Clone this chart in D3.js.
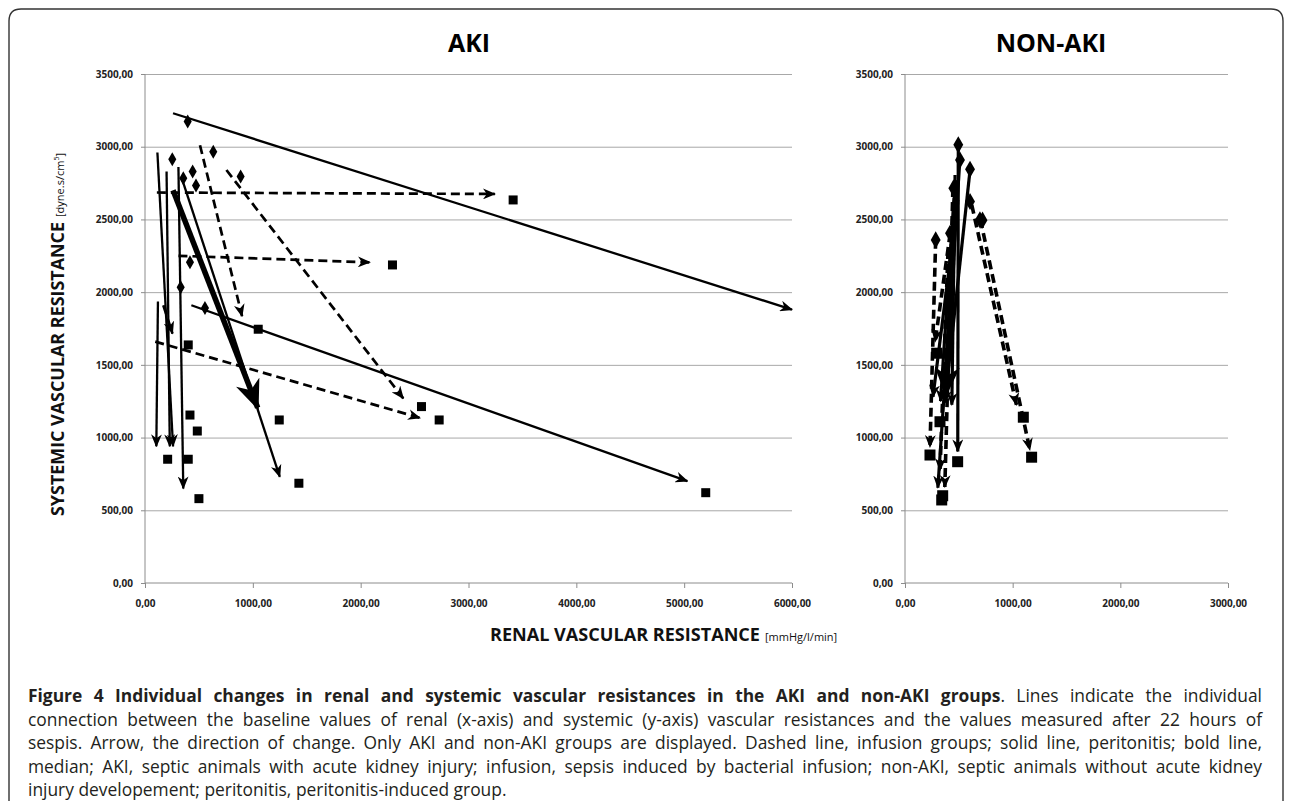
<!DOCTYPE html>
<html>
<head>
<meta charset="utf-8">
<script src="https://cdn.jsdelivr.net/npm/d3@7"></script>
<style>
  body { margin: 0; background: #fff; }
  svg { display: block; }
  .tick text { font-family: "Open Sans", sans-serif; font-weight: 700; font-size: 10px; fill: #222; }
</style>
</head>
<body>
<svg id="chart" width="1292" height="801"></svg>
<script>
// values: [rvr0, svr0, rvr22h, svr22h]
const akiSolid = [
  [260, 3230, 6000, 1880],
  [430, 1910, 5030, 700],
  [340, 2785, 1250, 730],
  [115, 2960, 260, 940],
  [120, 1935, 105, 940],
  [310, 2860, 355, 650],
  [200, 2830, 230, 940]
]
const akiDashed = [
  [110, 2685, 3245, 2675],
  [510, 3010, 900, 1835],
  [755, 2840, 2395, 1270],
  [310, 2250, 2085, 2205],
  [95, 1660, 2550, 1135],
  [170, 1910, 255, 1715]
]
const akiMedian = [[260, 2700, 1045, 1205]]
const akiDiamonds = [[396, 3173], [633, 2966], [887, 2795], [253, 2914], [442, 2829],
  [473, 2733], [355, 2783], [417, 2206], [331, 2034], [556, 1891]]
const akiSquares = [[3414, 2634], [2295, 2187], [2564, 1213], [2728, 1121], [5200, 621],
  [1050, 1745], [1245, 1121], [1427, 686], [210, 851], [401, 851], [417, 1155],
  [485, 1045], [500, 580], [401, 1637]]

const nonSolid = [
  [495, 3045, 490, 905],
  [510, 2910, 305, 655],
  [605, 2845, 370, 1240],
  [490, 2635, 260, 1280],
  [465, 2805, 435, 1225],
  [455, 2650, 330, 1250]
]
const nonDashed = [
  [285, 2360, 232, 935],
  [700, 2500, 1160, 915],
  [620, 2600, 1035, 1225],
  [445, 2715, 370, 660],
  [420, 2405, 280, 1660],
  [400, 2290, 325, 775]
]
const nonMedian = [[480, 2770, 380, 1295]]
const nonDiamonds = [[495, 3013], [511, 2909], [604, 2845], [449, 2715], [604, 2623],
  [696, 2497], [285, 2359], [418, 2405], [720, 2495]]
const nonSquares = [[232, 880], [489, 834], [341, 571], [294, 1580], [325, 1109],
  [1099, 1140], [1176, 865], [350, 600]]

const yTicks = [0, 500, 1000, 1500, 2000, 2500, 3000, 3500]
const akiXTicks = [0, 1000, 2000, 3000, 4000, 5000, 6000]
const nonXTicks = [0, 1000, 2000, 3000]

const captionLines = [
  ["Figure 4 Individual changes in renal and systemic vascular resistances in the AKI and non-AKI groups", ". Lines indicate the individual"],
  ["", "connection between the baseline values of renal (x-axis) and systemic (y-axis) vascular resistances and the values measured after 22 hours of"],
  ["", "sespis. Arrow, the direction of change. Only AKI and non-AKI groups are displayed. Dashed line, infusion groups; solid line, peritonitis; bold line,"],
  ["", "median; AKI, septic animals with acute kidney injury; infusion, sepsis induced by bacterial infusion; non-AKI, septic animals without acute kidney"],
  ["", "injury developement; peritonitis, peritonitis-induced group."]
]

let svg = d3.select("#chart")
let fmt = d => d3.format(".2f")(d).replace(".", ",")

// frame
svg.append("path")
  .attr("d", "M9,805 L9,21 Q9,9 21,9 L1271,9 Q1283,9 1283,21 L1283,805")
  .attr("fill", "none")
  .attr("stroke", "#333")
  .attr("stroke-width", 1.4)

let defs = svg.append("defs")
function addMarker(id, w, h) {
  defs.append("marker")
    .attr("id", id)
    .attr("viewBox", "0 0 12 10")
    .attr("refX", 11).attr("refY", 5)
    .attr("markerWidth", w).attr("markerHeight", h)
    .attr("markerUnits", "userSpaceOnUse")
    .attr("orient", "auto")
    .append("path")
    .attr("d", "M0,0 L12,5 L0,10 L3.5,5 Z")
    .attr("fill", "#000")
}
addMarker("arr", 13, 11)
addMarker("arrBig", 30, 27)

let y = d3.scaleLinear().domain([0, 3500]).range([583, 74])

function panel(x, ticks, title, titleX, lw, mk, solid, dashed, median, diamonds, squares) {
  let g = svg.append("g")
  let [x0, x1] = x.range()

  // gridlines
  g.append("g")
    .attr("transform", `translate(${x0},0)`)
    .call(d3.axisLeft(y).tickValues(yTicks.slice(1)).tickSize(-(x1 - x0)).tickFormat(""))
    .call(a => a.select(".domain").remove())
    .selectAll("line").attr("stroke", "#a8a8a8")

  let ya = g.append("g")
    .attr("transform", `translate(${x0},0)`)
    .call(d3.axisLeft(y).tickValues(yTicks).tickSize(4).tickPadding(8).tickFormat(fmt))
  ya.select(".domain").attr("stroke", "#8c8c8c").attr("d", `M0,${y(0)}V${y(3500)}`)
  ya.selectAll(".tick line").attr("stroke", "#8c8c8c")

  let xa = g.append("g")
    .attr("transform", `translate(0,${y(0)})`)
    .call(d3.axisBottom(x).tickValues(ticks).tickSize(5).tickPadding(12).tickFormat(fmt))
  xa.select(".domain").attr("stroke", "#8c8c8c").attr("d", `M${x0},0H${x1}`)
  xa.selectAll(".tick line").attr("stroke", "#8c8c8c")

  g.append("text")
    .attr("x", titleX).attr("y", 52)
    .attr("text-anchor", "middle")
    .attr("font-family", "Open Sans").attr("font-weight", 700).attr("font-size", 25)
    .text(title)

  function lines(data, width, dash, marker) {
    g.selectAll(null).data(data).enter().append("line")
      .attr("x1", d => x(d[0])).attr("y1", d => y(d[1]))
      .attr("x2", d => x(d[2])).attr("y2", d => y(d[3]))
      .attr("stroke", "#000")
      .attr("stroke-width", width)
      .attr("stroke-dasharray", dash)
      .attr("marker-end", `url(#${marker})`)
  }
  lines(dashed, lw + 0.4, "9,5", "arr")
  lines(solid, lw, null, "arr")
  lines(median, 5.5, null, "arrBig")

  g.selectAll(null).data(diamonds).enter().append("path")
    .attr("transform", d => `translate(${x(d[0])},${y(d[1])})`)
    .attr("d", d3.symbol(d3.symbolDiamond, mk * mk * 0.7))
    .attr("fill", "#000")
  g.selectAll(null).data(squares).enter().append("rect")
    .attr("x", d => x(d[0]) - mk / 2).attr("y", d => y(d[1]) - mk / 2)
    .attr("width", mk).attr("height", mk)
    .attr("fill", "#000")
}

panel(d3.scaleLinear().domain([0, 6000]).range([145, 792]), akiXTicks, "AKI", 469, 2.3, 9,
  akiSolid, akiDashed, akiMedian, akiDiamonds, akiSquares)
panel(d3.scaleLinear().domain([0, 3000]).range([905, 1228]), nonXTicks, "NON-AKI", 1051, 3.2, 11,
  nonSolid, nonDashed, nonMedian, nonDiamonds, nonSquares)

// axis titles
svg.append("text")
  .attr("x", 490).attr("y", 641)
  .attr("font-family", "Open Sans").attr("font-weight", 700).attr("font-size", 18)
  .attr("textLength", 270).attr("lengthAdjust", "spacingAndGlyphs")
  .attr("fill", "#111")
  .text("RENAL VASCULAR RESISTANCE")
svg.append("text")
  .attr("x", 765).attr("y", 641)
  .attr("font-family", "Open Sans").attr("font-size", 11)
  .attr("fill", "#111")
  .text("[mmHg/l/min]")

let yt = svg.append("g").attr("transform", "translate(64,516) rotate(-90)")
yt.append("text")
  .attr("x", 0).attr("y", 0)
  .attr("font-family", "Open Sans").attr("font-weight", 700).attr("font-size", 18)
  .attr("textLength", 294).attr("lengthAdjust", "spacingAndGlyphs")
  .attr("fill", "#111")
  .text("SYSTEMIC VASCULAR RESISTANCE")
let ys = yt.append("text")
  .attr("x", 299).attr("y", 0)
  .attr("font-family", "Open Sans").attr("font-size", 11)
  .attr("fill", "#111")
ys.append("tspan").text("[dyne.s/cm")
ys.append("tspan").attr("dy", -5).attr("font-size", 7).text("5")
ys.append("tspan").attr("dy", 5).text("]")

// caption, justified
let capLeft = 28, capRight = 1262
captionLines.forEach((ln, i) => {
  let t = svg.append("text")
    .attr("x", capLeft).attr("y", 702 + i * 23.6)
    .attr("font-family", "Open Sans").attr("font-size", 17.4)
    .attr("fill", "#231f20")
  if (ln[0]) t.append("tspan").attr("font-weight", 700).text(ln[0])
  t.append("tspan").text(ln[1])
  if (i < captionLines.length - 1) {
    let len = t.node().getComputedTextLength()
    let spaces = (ln[0] + ln[1]).split(" ").length - 1
    t.attr("word-spacing", (capRight - capLeft - len) / spaces)
  }
})
</script>
</body>
</html>
